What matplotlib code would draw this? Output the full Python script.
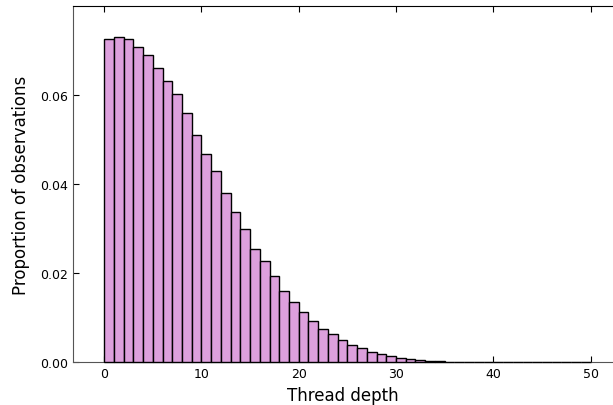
import matplotlib
matplotlib.use("Agg")
import matplotlib.pyplot as plt
import numpy as np

depth = list(range(50))
proportion = [0.0726, 0.0730, 0.0726, 0.0707, 0.0689, 0.0660, 0.0631, 0.0602, 0.0559, 0.0510,
              0.0467, 0.0429, 0.0379, 0.0338, 0.0298, 0.0255, 0.0226, 0.0193, 0.0159, 0.0135,
              0.0112, 0.0092, 0.0075, 0.0064, 0.0050, 0.0039, 0.0031, 0.0022, 0.0018, 0.0014,
              0.0009, 0.0007, 0.0004, 0.0003, 0.0002, 0.0001, 0.00005, 0.00003, 0.00002, 0.00001,
              0.00001, 0.000005, 0.000005, 0.000003, 0.000002, 0.000002, 0.000001, 0.000001, 0.000001, 0.000001]
xticks = [0, 10, 20, 30, 40, 50]
yticks = [0.00, 0.02, 0.04, 0.06]

fig = plt.figure(figsize=(6.13, 4.06), dpi=100)
ax = fig.add_axes([73/613, 43/406, 1 - 73/613, (363-7)/406])
ax.bar(depth, proportion, width=1.0, align='edge', color='#DDA0DD', edgecolor='black',
       linewidth=1.0, zorder=3, clip_on=False)
ax.set_xlim(-3.2, 52.3)
ax.set_ylim(0, 0.080)
ax.set_xticks(xticks)
ax.set_yticks(yticks)
ax.set_yticklabels([f"{v:.2f}" for v in yticks])
ax.tick_params(direction='in', labelsize=9, top=True, right=False, length=4, color='black')
ax.spines['right'].set_visible(False)
for s in ['left', 'bottom']:
    ax.spines[s].set_color('#555555')
ax.spines['top'].set_color('black')
ax.set_xlabel('Thread depth', fontsize=12, labelpad=4.5)
ax.set_ylabel('Proportion of observations', fontsize=12, labelpad=7)
fig.savefig('out.png', dpi=100)
